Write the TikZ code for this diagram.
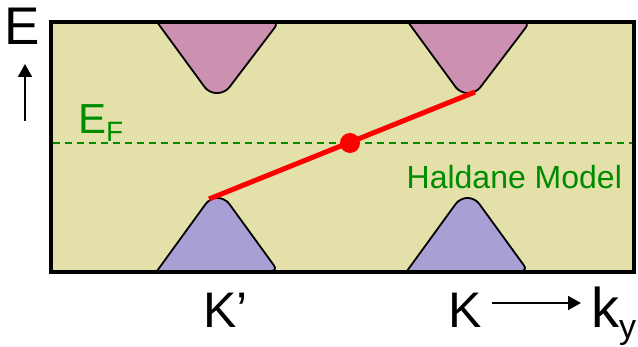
\documentclass[tikz,border=0pt]{standalone}
\usepackage{fontspec}
\setmainfont{Liberation Sans}
\usetikzlibrary{arrows.meta}
\definecolor{bgk}{RGB}{227,224,170}
\definecolor{pinkband}{RGB}{204,144,176}
\definecolor{purpband}{RGB}{168,160,213}
\definecolor{efgreen}{RGB}{0,140,0}
\tikzset{
  band/.style={draw=black, line width=1.8pt, rounded corners=7pt},
  lbl/.style={inner sep=0pt, anchor=base west, text=black},
  edgeline/.style={red, line width=5pt},
  axisarrow/.style={line width=2pt, -{Triangle[length=13pt,width=14pt]}},
}
\begin{document}
\begin{tikzpicture}[x=1pt,y=-1pt]
\useasboundingbox (0,0) rectangle (638,347);
% background
\fill[bgk] (51,22) rectangle (634,272);
% conduction bands (pink)
\path[band, fill=pinkband] (157,22) -- (209,93) -- (225,93) -- (279,22) [sharp corners] -- cycle;
\path[band, fill=pinkband] (408,22) -- (460,93) -- (476,93) -- (530,22) [sharp corners] -- cycle;
% valence bands (purple)
\path[band, fill=purpband] (157,271) -- (210,198) -- (225,198) -- (278,271) [sharp corners] -- cycle;
\path[band, fill=purpband] (407,271) -- (460,198) -- (475,198) -- (528,271) [sharp corners] -- cycle;
% frame
\draw[line width=4pt] (51,22) rectangle (634,272);
% Fermi level
\coordinate (efL) at (53,143);
\coordinate (efR) at (632,143);
\draw[efgreen, line width=1.6pt, dash pattern=on 7pt off 5pt] (efL) -- (efR);
% edge state
\coordinate (eA) at (209,199);
\coordinate (eB) at (475,92);
\draw[edgeline] (eA) -- (eB);
\node[circle, fill=red, minimum size=20pt, inner sep=0pt] (dot) at (350,143) {};
% labels
\node[lbl] (Elab) at (4,45) {\fontsize{53}{53}\selectfont E};
\coordinate (Ea0) at (25,121);
\coordinate (Ea1) at (25,64);
\draw[axisarrow] (Ea0) -- (Ea1);
\node[lbl, text=efgreen] (EF) at (78,134) {\fontsize{42}{42}\selectfont E\raisebox{-8pt}{\fontsize{28}{28}\selectfont F}};
\node[lbl, text=efgreen] (hm) at (406.5,189) {\fontsize{32}{32}\selectfont Haldane Model};
\node[lbl] (Kp) at (203,328) {\fontsize{50}{50}\selectfont K’};
\node[lbl] (K) at (448,328) {\fontsize{50}{50}\selectfont K};
\node[lbl] (ky) at (591,328) {\fontsize{56}{56}\selectfont k\raisebox{-11pt}{\fontsize{34}{34}\selectfont y}};
\coordinate (ka0) at (492,303);
\coordinate (ka1) at (581,303);
\draw[axisarrow] (ka0) -- (ka1);
\end{tikzpicture}
\end{document}
